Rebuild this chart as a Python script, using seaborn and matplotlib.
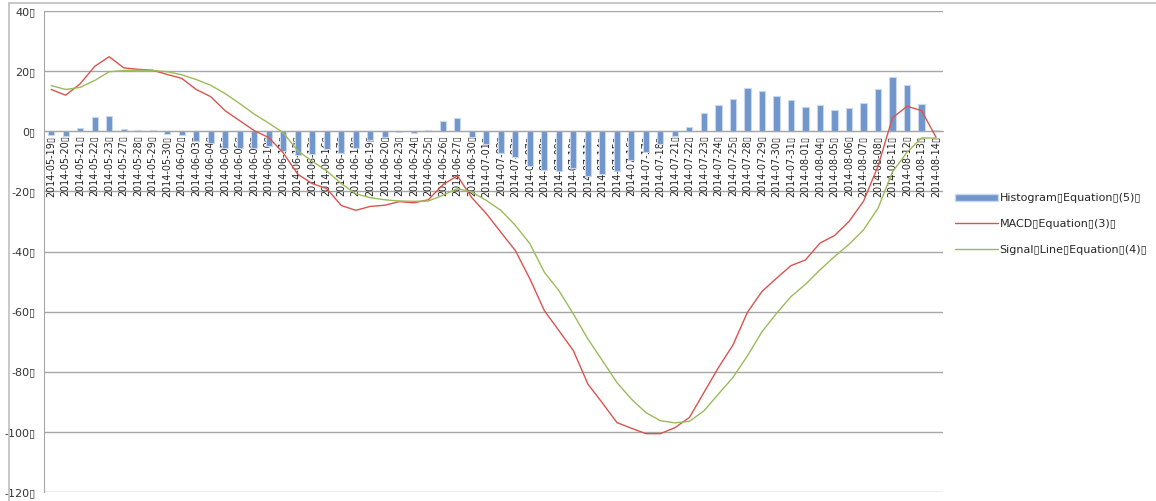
import numpy as np
import pandas as pd
import matplotlib
matplotlib.use("Agg")
import matplotlib.pyplot as plt
import seaborn as sns
from matplotlib.patches import Patch
from matplotlib.lines import Line2D

# Data
dates = [
    "2014-05-19", "2014-05-20", "2014-05-21", "2014-05-22", "2014-05-23", "2014-05-27",
    "2014-05-28", "2014-05-29", "2014-05-30", "2014-06-02", "2014-06-03", "2014-06-04",
    "2014-06-05", "2014-06-06", "2014-06-09", "2014-06-10", "2014-06-11", "2014-06-12",
    "2014-06-13", "2014-06-16", "2014-06-17", "2014-06-18", "2014-06-19", "2014-06-20",
    "2014-06-23", "2014-06-24", "2014-06-25", "2014-06-26", "2014-06-27", "2014-06-30",
    "2014-07-01", "2014-07-02", "2014-07-03", "2014-07-07", "2014-07-08", "2014-07-09",
    "2014-07-10", "2014-07-11", "2014-07-14", "2014-07-15", "2014-07-16", "2014-07-17",
    "2014-07-18", "2014-07-21", "2014-07-22", "2014-07-23", "2014-07-24", "2014-07-25",
    "2014-07-28", "2014-07-29", "2014-07-30", "2014-07-31", "2014-08-01", "2014-08-04",
    "2014-08-05", "2014-08-06", "2014-08-07", "2014-08-08", "2014-08-11", "2014-08-12",
    "2014-08-13", "2014-08-14",
]

macd = [
    13.9, 12.0, 15.8, 21.6, 24.8, 21.1, 20.6, 20.3, 18.9, 17.6, 13.9, 11.5,
    6.8, 3.5, 0.2, -2.1, -7.2, -14.3, -17.4, -19.1, -24.7, -26.3, -25.0, -24.6,
    -23.4, -23.8, -22.8, -17.8, -14.8, -22.1, -27.4, -33.6, -39.7, -49.1, -59.7, -66.3,
    -73.0, -84.1, -90.4, -96.9, -98.8, -100.6, -100.6, -98.6, -95.2, -86.9, -78.6, -71.1,
    -60.2, -53.3, -48.9, -44.7, -42.8, -37.2, -34.7, -30.0, -23.3, -11.6, 4.5, 8.3,
    6.9, -2.0,
]

signal = [
    15.2, 13.9, 14.6, 16.9, 19.8, 20.2, 20.3, 20.2, 19.8, 18.8, 17.2, 15.3,
    12.5, 9.2, 5.7, 2.7, -0.5, -6.5, -10.0, -13.2, -17.4, -20.8, -22.1, -22.8,
    -23.2, -23.3, -23.2, -21.3, -19.1, -20.2, -23.0, -26.3, -31.3, -37.4, -46.9, -53.0,
    -60.8, -69.1, -76.3, -83.6, -89.1, -93.6, -96.3, -97.0, -96.5, -93.0, -87.4, -81.9,
    -74.7, -66.7, -60.6, -55.0, -50.9, -46.1, -41.7, -37.6, -32.8, -25.6, -13.5, -7.0,
    -2.2, -2.3,
]

histogram = [
    -1.3, -1.6, 1.2, 4.7, 5.0, 0.9, 0.4, 0.3, -0.9, -1.2, -3.3, -3.8,
    -5.7, -5.7, -5.5, -4.8, -6.7, -7.8, -7.4, -5.9, -7.3, -5.5, -2.9, -1.8,
    -0.2, -0.5, 0.4, 3.5, 4.3, -1.9, -4.4, -7.3, -8.4, -11.7, -12.8, -13.3,
    -12.2, -15.0, -14.1, -13.3, -9.7, -7.0, -4.3, -1.6, 1.3, 6.1, 8.8, 10.8,
    14.5, 13.4, 11.7, 10.3, 8.1, 8.9, 7.0, 7.6, 9.5, 14.0, 18.0, 15.3,
    9.1, 0.3,
]

y_ticks = [40, 20, 0, -20, -40, -60, -80, -100, -120]

BOX = "\u25af"
labels = ["Histogram" + BOX + "Equation" + BOX + "(5)" + BOX,
          "MACD" + BOX + "Equation" + BOX + "(3)" + BOX,
          "Signal" + BOX + "Line" + BOX + "Equation" + BOX + "(4)" + BOX]

bar_color = "#7096CC"
macd_color = "#D9544F"
signal_color = "#9BBB59"
grid_color = "#A6A6A6"

df = pd.DataFrame({"date": dates, "hist": histogram, "macd": macd, "signal": signal})
df["pos"] = range(len(df))

sns.set_style("white")
plt.rcParams["font.family"] = ["DejaVu Sans"]

fig = plt.figure(figsize=(11.56, 5.01), dpi=100)
ax = fig.add_axes([0.038, 0.018, 0.778, 0.96])

sns.barplot(data=df, x="date", y="hist", color=bar_color, saturation=1,
            width=0.42, edgecolor="#C9D7EE", linewidth=0.8, ax=ax, zorder=2)
sns.lineplot(data=df, x="pos", y="macd", color=macd_color, linewidth=1.0, ax=ax, zorder=3)
sns.lineplot(data=df, x="pos", y="signal", color=signal_color, linewidth=1.0, ax=ax, zorder=3)

ax.set_xlim(-0.5, len(dates) - 0.5)
ax.set_ylim(-120, 40)
ax.set_xlabel("")
ax.set_ylabel("")

# y axis
ax.set_yticks(y_ticks)
ax.set_yticklabels([f"{v}{BOX}" for v in y_ticks], fontsize=8, color="#333333")
ax.tick_params(axis="y", length=4, width=0.8, color=grid_color, pad=2)
for v in y_ticks:
    ax.axhline(v, color=grid_color, linewidth=1.0, zorder=0)

# x axis crossing at zero, labels hanging below
ax.spines["bottom"].set_position(("data", 0))
ax.spines["bottom"].set_color(grid_color)
ax.spines["left"].set_color(grid_color)
ax.spines["top"].set_visible(False)
ax.spines["right"].set_visible(False)
ax.set_xticks(range(len(dates)))
ax.set_xticklabels([d + BOX for d in dates], rotation=90, fontsize=6.9,
                   color="#222222", va="top")
ax.tick_params(axis="x", length=0, pad=3)
ax.set_xticks(np.arange(-0.5, len(dates), 1.0), minor=True)
ax.tick_params(axis="x", which="minor", length=4, width=0.8, color=grid_color, direction="out")
for t in ax.get_xticklabels():
    t.set_zorder(5)

# outer chart frame (left and top edges visible)
fig.add_artist(Line2D([0.008, 0.008], [0.0, 0.994], transform=fig.transFigure,
                      color="#BFBFBF", linewidth=1.2))
fig.add_artist(Line2D([0.008, 1.0], [0.994, 0.994], transform=fig.transFigure,
                      color="#BFBFBF", linewidth=1.2))

handles = [Patch(facecolor=bar_color, edgecolor="#C9D7EE"),
           Line2D([], [], color=macd_color, linewidth=1.0),
           Line2D([], [], color=signal_color, linewidth=1.0)]
fig.legend(handles, labels, loc="center left", bbox_to_anchor=(0.822, 0.553),
           frameon=False, fontsize=8, handlelength=3.9, handleheight=0.5,
           handletextpad=0.15, labelspacing=1.4, borderaxespad=0)

fig.savefig("out.png", dpi=100)
